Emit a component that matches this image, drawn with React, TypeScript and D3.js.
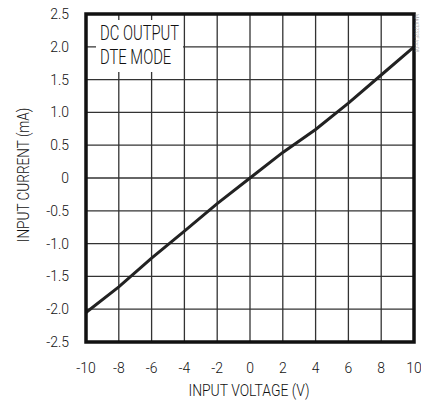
import React from 'react';
import * as d3 from 'd3';

// input voltage (V) vs input current (mA)
const voltage = [-10, -8, -6, -4, -2, 0, 2, 4, 6, 8, 10];
const current = [-2.05, -1.66, -1.22, -0.81, -0.39, 0, 0.39, 0.74, 1.14, 1.57, 2.0];

const xTicks = [-10, -8, -6, -4, -2, 0, 2, 4, 6, 8, 10];
const yTicks = [-2.5, -2.0, -1.5, -1.0, -0.5, 0, 0.5, 1.0, 1.5, 2.0, 2.5];
const yTickLabels = ['-2.5', '-2.0', '-1.5', '-1.0', '-0.5', '0', '0.5', '1.0', '1.5', '2.0', '2.5'];

const font = "Roboto, 'Liberation Sans', Arial, sans-serif";

// condensed-looking text: squeeze horizontally around the anchor point
const T: React.FC<{ x: number; y: number; size: number; sx?: number; rot?: number; anchor?: string; fill?: string; children: React.ReactNode }> =
    ({ x, y, size, sx = 1, rot = 0, anchor = 'start', fill = '#111', children }) => (
        <text transform={`translate(${x},${y}) rotate(${rot}) scale(${sx},1)`} textAnchor={anchor}
            fontFamily={font} fontWeight={300} fontSize={size} fill={fill}>{children}</text>
    );

const App: React.FC = () => {
    const left = 86, right = 414, top = 14, bottom = 342;

    const xScale = d3.scaleLinear().domain([-10, 10]).range([left, right]);
    const yScale = d3.scaleLinear().domain([-2.5, 2.5]).range([bottom, top]);

    const line = d3.line<number>()
        .x((d, i) => xScale(voltage[i]))
        .y((d) => yScale(d));

    return (
        <svg width={421} height={400} style={{ position: 'absolute', left: 0, top: 0 }}>
            <rect width={421} height={400} fill="#fff" />
            {/* grid */}
            {xTicks.slice(1, -1).map((t) => (
                <line key={'gx' + t} x1={xScale(t)} x2={xScale(t)} y1={top} y2={bottom} stroke="#333" strokeWidth={1.3} />
            ))}
            {yTicks.slice(1, -1).map((t) => (
                <line key={'gy' + t} x1={left} x2={right} y1={yScale(t)} y2={yScale(t)} stroke="#333" strokeWidth={1.3} />
            ))}
            {/* label box */}
            <rect x={96} y={20} width={87} height={52} fill="#fff" />
            <T x={100} y={39.5} size={20} sx={0.74}>DC OUTPUT</T>
            <T x={100} y={63.5} size={20} sx={0.74}>DTE MODE</T>
            {/* data */}
            <path d={line(current) || ''} fill="none" stroke="#222" strokeWidth={3} />
            {/* frame */}
            <rect x={left} y={top} width={right - left} height={bottom - top} fill="none" stroke="#111" strokeWidth={3.5} />
            {/* ticks */}
            {yTicks.map((t, i) => (
                <T key={'yl' + t} x={69} y={yScale(t) + 5} size={15} sx={0.93} anchor="end">{yTickLabels[i]}</T>
            ))}
            {xTicks.map((t) => (
                <T key={'xl' + t} x={xScale(t)} y={373} size={15} sx={0.93} anchor="middle">{t}</T>
            ))}
            <T x={249} y={396} size={16} sx={0.87} anchor="middle">INPUT VOLTAGE (V)</T>
            <T x={29} y={175} size={16} sx={0.85} rot={-90} anchor="middle">INPUT CURRENT (mA)</T>
            <T x={415} y={14} size={5} rot={90} fill="#999">MAX3232E toc08</T>
        </svg>
    );
};

export default App;
